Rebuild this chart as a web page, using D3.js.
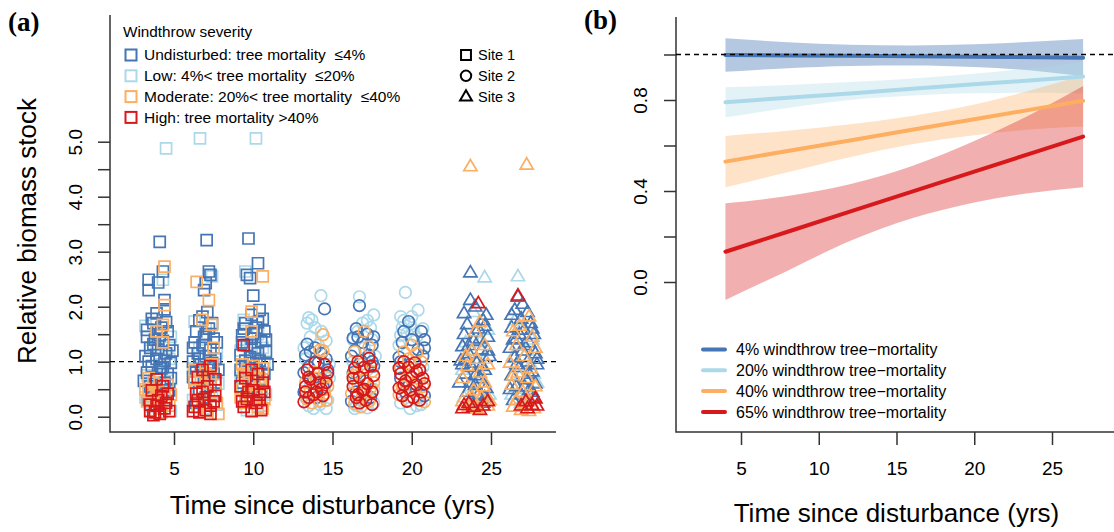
<!DOCTYPE html>
<html>
<head>
<meta charset="utf-8">
<script src="https://cdn.jsdelivr.net/npm/d3@7"></script>
<style>
  html, body { margin: 0; padding: 0; background: #fff; }
  svg { display: block; font-family: "Liberation Sans", Arial, Helvetica, sans-serif; }
</style>
</head>
<body>
<svg id="chart" width="1114" height="532"></svg>
<script>
// severity classes, colours and legend text
var severity = ["Undisturbed", "Low", "Moderate", "High"];
var sevColor = ["#4575b4", "#abd9e9", "#fdae61", "#d7191c"];
var sevLabel = [
    "Undisturbed: tree mortality \u00a0\u22644%",
    "Low: 4%< tree mortality \u00a0\u226420%",
    "Moderate: 20%< tree mortality \u00a0\u226440%",
    "High: tree mortality >40%"
];
var siteLabel = ["Site 1", "Site 2", "Site 3"];

// panel (a) points: [years since disturbance, relative biomass stock]
// site 1 (squares)
var s1Undist = [[4.1,3.18],[3.4,2.49],[3.4,2.30],[4.0,2.44],[4.3,2.64],[4.4,2.12],[4.4,1.95],[3.9,1.88],[3.7,1.70],[4.2,1.62],[4.6,1.55],[3.3,1.45],[3.8,1.40],[4.3,1.38],[4.7,1.30],[3.5,1.25],[4.0,1.22],[4.5,1.15],[3.2,1.10],[3.9,1.05],[4.4,1.02],[4.8,0.98],[3.6,0.92],[4.2,0.88],[3.3,0.80],[4.6,0.78],[3.9,0.70],[4.4,0.62],[3.5,0.55],[4.7,0.48],[4.0,0.40],[3.4,0.30],
    [3.6,1.78],[4.5,1.72],[3.3,1.58],[4.1,1.48],[3.7,1.32],[4.9,1.20],[3.4,1.00],[4.1,0.78],[4.8,0.70],[3.7,0.45],[4.3,0.90],[3.1,0.65],
    [7.06,3.21],[7.2,2.64],[7.0,2.43],[7.3,2.58],[6.9,2.30],[7.1,1.90],[6.8,1.82],[7.4,1.70],[6.4,1.55],[7.0,1.50],[7.5,1.42],[6.3,1.35],[6.8,1.30],[7.3,1.22],[6.5,1.15],[7.0,1.10],[7.6,1.05],[6.2,1.00],[6.7,0.95],[7.2,0.90],[6.4,0.82],[7.5,0.78],[6.9,0.70],[6.3,0.62],[7.3,0.55],[6.6,0.45],[7.0,0.35],[6.4,0.25],
    [6.6,1.75],[7.2,1.60],[6.9,1.45],[6.2,1.25],[7.7,1.35],[6.6,1.05],[7.4,0.98],[7.8,0.85],[6.2,0.72],[7.6,0.62],
    [9.7,3.24],[10.3,2.79],[9.6,2.58],[9.8,2.52],[10.0,2.20],[10.4,1.94],[9.9,1.85],[10.6,1.78],[9.5,1.70],[10.2,1.62],[10.7,1.55],[9.3,1.48],[9.9,1.42],[10.5,1.38],[9.6,1.30],[10.1,1.25],[10.8,1.18],[9.2,1.12],[9.8,1.08],[10.4,1.02],[10.9,0.95],[9.5,0.90],[10.2,0.85],[9.9,0.75],[10.6,0.68],[9.3,0.62],[10.0,0.55],[10.5,0.45],[9.6,0.38],
    [10.3,1.72],[9.4,1.60],[10.0,1.50],[10.8,1.40],[9.3,1.35],[10.3,1.15],[9.5,1.02],[10.0,0.98],[10.7,0.78],[9.2,0.85]];
var s1Low = [[4.5,4.88],[4.3,2.49],[3.2,1.65],[4.8,1.45],[3.5,1.20],[4.1,0.95],[3.3,0.75],[4.6,0.65],[3.8,0.52],[3.2,0.35],[4.5,0.30],[3.6,0.18],[4.1,0.22],[4.8,0.10],
    [3.9,1.30],[4.7,1.05],[3.4,0.58],[4.3,0.40],
    [6.64,5.06],[7.4,2.55],[6.3,1.73],[7.0,1.60],[6.6,1.25],[7.7,1.15],[6.2,0.88],[7.1,0.75],[7.8,0.60],[6.5,0.50],[7.4,0.40],[6.2,0.30],[7.7,0.22],[6.9,0.15],
    [6.9,1.40],[7.5,0.90],[6.5,0.30],
    [10.17,5.06],[9.5,2.64],[9.4,1.76],[10.3,1.50],[9.2,1.20],[10.7,1.00],[9.7,0.80],[10.3,0.65],[9.4,0.50],[10.8,0.40],[9.9,0.30],[10.5,0.20],[9.6,0.12],
    [9.8,1.30],[10.6,1.25],[9.2,0.70],[10.2,0.35]];
var s1Mod = [[4.4,2.73],[4.4,2.03],[4.3,1.67],[3.9,1.55],[4.3,1.35],[3.4,0.70],[3.7,0.62],[4.6,0.58],[3.2,0.50],[4.0,0.45],[3.6,0.38],[4.4,0.35],[3.3,0.28],[3.9,0.22],[4.7,0.20],[3.5,0.12],[4.2,0.08],
    [4.8,0.40],[3.4,0.45],[4.1,0.15],
    [6.43,2.45],[7.2,2.12],[6.8,1.76],[7.4,1.67],[7.5,1.25],[7.4,0.95],[6.3,0.85],[7.0,0.78],[6.7,0.65],[7.6,0.58],[6.4,0.48],[7.2,0.40],[6.8,0.32],[7.7,0.25],[6.5,0.18],[7.1,0.10],[7.8,0.05],
    [6.3,0.62],[7.3,0.70],[6.9,0.22],
    [10.6,2.55],[9.9,1.91],[9.9,1.55],[9.3,0.95],[10.0,0.92],[10.6,0.88],[9.4,0.78],[10.1,0.70],[9.7,0.62],[10.5,0.58],[9.3,0.50],[10.2,0.45],[9.8,0.38],[10.7,0.32],[9.5,0.25],[10.3,0.18],[9.9,0.12],
    [9.6,0.85],[10.4,0.70],[9.2,0.35],[10.6,0.15]];
var s1High = [[3.9,0.68],[4.3,0.55],[3.6,0.48],[4.6,0.42],[4.0,0.30],[3.5,0.22],[4.4,0.15],[3.8,0.08],[4.1,0.05],[3.7,0.03],[4.5,0.25],
    [4.2,0.38],[3.5,0.10],[4.7,0.10],[3.9,0.20],
    [7.3,0.92],[6.8,0.85],[6.5,0.72],[7.6,0.68],[7.1,0.55],[6.4,0.42],[6.9,0.32],[7.5,0.28],[6.3,0.18],[7.0,0.12],[6.6,0.08],[7.3,0.05],[6.2,0.10],
    [6.8,0.45],[7.6,0.38],[6.5,0.30],[7.3,0.20],
    [9.4,1.30],[9.9,0.85],[10.3,0.78],[9.5,0.70],[10.6,0.62],[9.2,0.55],[10.0,0.48],[10.4,0.40],[9.6,0.32],[10.2,0.25],[9.4,0.18],[9.9,0.10],[10.5,0.12],
    [9.7,0.45],[10.4,0.30],[9.3,0.28],[10.7,0.45]];

// site 2 (circles)
var s2Undist = [[14.5,1.96],[13.4,1.32],[13.9,1.25],[13.3,1.12],[14.6,1.05],[14.1,0.98],[13.5,0.90],[14.7,0.85],[13.8,0.70],[14.4,0.55],[13.2,0.45],[14.0,0.35],
    [13.6,1.18],[14.3,1.15],[13.2,0.80],[14.6,0.75],
    [16.7,2.02],[16.5,1.60],[17.2,1.50],[16.3,1.43],[16.9,1.35],[17.5,1.30],[16.4,1.20],[17.3,1.12],[16.8,1.02],[17.6,0.92],[16.3,0.80],[17.1,0.65],[16.5,0.45],[17.4,0.35],[16.2,0.28],
    [16.6,1.45],[17.6,1.45],[16.2,1.10],[17.5,1.00],
    [19.8,1.73],[20.6,1.55],[20.8,1.40],[19.4,1.35],[20.4,1.22],[19.2,1.08],[20.7,1.10],[19.9,0.95],[20.5,0.85],[19.3,0.70],[20.2,0.60],[19.6,0.45],[20.8,0.38],
    [19.5,1.55],[20.8,1.25],[20.0,1.40],[19.3,1.00]];
var s2Low = [[14.27,2.20],[13.5,1.80],[13.7,1.76],[13.4,1.70],[13.9,1.62],[14.3,1.55],[13.6,1.45],[14.6,1.38],[13.3,1.05],[14.8,0.95],[13.6,0.60],[14.5,0.50],[13.3,0.35],[14.7,0.30],[13.8,0.15],[14.6,0.15],[14.2,0.22],
    [14.1,1.30],[13.2,1.25],[14.8,0.70],[13.5,0.20],
    [16.7,2.18],[17.6,1.85],[17.2,1.75],[16.9,1.70],[17.4,1.62],[16.6,1.55],[17.5,1.40],[16.3,1.00],[17.2,0.85],[16.4,0.60],[17.6,0.50],[16.8,0.30],[17.2,0.16],[16.5,0.20],
    [17.0,1.25],[16.3,1.40],[17.7,1.10],[16.4,0.15],[17.6,0.25],
    [19.6,2.26],[20.4,1.94],[19.3,1.82],[19.5,1.75],[19.9,1.68],[19.4,1.62],[20.1,1.58],[19.7,1.52],[20.3,1.45],[19.2,1.30],[20.7,0.90],[19.5,0.55],[20.4,0.35],[19.9,0.15],[20.6,0.22],
    [20.0,1.82],[19.3,1.48],[20.7,1.60],[20.3,0.20],[19.3,0.25]];
var s2Mod = [[14.4,1.49],[14.2,1.21],[14.4,1.20],[13.8,0.82],[14.6,0.72],[13.3,0.62],[14.0,0.58],[13.6,0.48],[14.5,0.42],[13.4,0.32],[14.2,0.28],[13.7,0.25],[14.6,0.30],
    [13.3,0.45],[14.0,0.70],[14.7,0.55],
    [17.0,1.55],[16.4,1.18],[17.3,1.27],[16.8,0.95],[17.5,0.82],[16.3,0.75],[17.0,0.68],[16.6,0.58],[17.4,0.52],[16.2,0.42],[16.9,0.35],[17.3,0.28],[16.4,0.24],[16.8,0.18],
    [16.5,0.80],[17.6,0.62],[17.1,0.45],
    [20.0,1.30],[19.5,1.18],[20.3,1.15],[20.6,1.00],[19.3,0.88],[20.1,0.80],[20.5,0.68],[19.6,0.62],[20.2,0.50],[19.2,0.40],[20.8,0.27],[19.8,0.30],
    [19.4,0.55],[20.7,0.55],[19.8,1.05]];
var s2High = [[13.9,0.98],[14.5,0.95],[13.4,0.85],[14.1,0.78],[13.6,0.68],[14.6,0.62],[13.3,0.55],[14.0,0.45],[14.4,0.38],[13.5,0.35],[13.2,0.27],[14.3,0.50],[13.8,0.40],
    [14.7,0.80],[13.5,0.72],[14.2,0.62],[13.3,0.45],
    [17.3,1.06],[16.6,1.00],[17.0,0.90],[16.4,0.88],[17.6,0.75],[16.7,0.72],[17.2,0.60],[16.3,0.55],[17.5,0.45],[16.9,0.48],[16.5,0.35],[17.1,0.30],[17.5,0.22],[16.7,0.25],
    [17.4,0.92],[16.3,0.70],[17.0,0.50],[16.6,0.40],
    [19.5,1.00],[20.2,0.98],[19.8,0.90],[20.5,0.85],[19.3,0.78],[20.0,0.72],[20.7,0.70],[19.6,0.65],[20.3,0.58],[19.2,0.52],[19.9,0.48],[20.6,0.45],[19.4,0.38],[20.1,0.35],[20.5,0.30],[19.7,0.28],
    [19.2,0.88],[20.8,0.60],[20.3,0.82],[19.5,0.58]];

// site 3 (triangles)
var s3Undist = [[23.7,2.62],[23.7,2.12],[24.7,1.85],[24.5,1.75],[23.5,1.68],[24.2,1.60],[23.3,1.50],[24.8,1.45],[23.9,1.38],[23.2,1.28],[24.4,1.22],[23.6,1.15],[24.9,1.10],[23.1,1.02],[24.1,0.98],[23.8,0.90],[24.6,0.85],[23.4,0.78],[24.3,0.70],[23.0,0.62],[24.0,0.58],[24.7,0.52],[23.5,0.45],[24.2,0.40],[23.8,0.30],[24.5,0.25],
    [24.0,2.00],[24.6,1.65],[23.3,1.88],[24.3,1.42],[23.6,1.30],[24.8,1.20],[23.4,1.05],[24.4,0.92],[23.2,0.95],[24.0,0.75],[23.7,0.62],[24.6,0.35],
    [26.7,2.18],[26.5,1.94],[27.3,1.90],[26.9,1.78],[27.5,1.70],[26.3,1.62],[27.1,1.58],[27.7,1.50],[26.6,1.42],[27.4,1.35],[26.2,1.25],[27.0,1.20],[27.8,1.15],[26.5,1.08],[27.3,1.00],[27.9,0.95],[26.8,0.90],[27.6,0.82],[26.3,0.75],[27.2,0.68],[27.8,0.60],[26.6,0.55],[27.4,0.48],[26.9,0.40],[27.7,0.35],[26.4,0.30],
    [27.0,2.05],[26.3,1.85],[27.6,1.60],[26.8,1.50],[27.1,1.30],[26.4,1.40],[27.9,1.05],[26.6,0.95],[27.4,0.78],[26.2,0.50],[27.1,0.55],[27.6,0.45]];
var s3Low = [[24.6,2.53],[23.9,1.90],[24.8,1.58],[23.4,1.35],[24.6,1.05],[23.2,0.85],[24.4,0.68],[23.7,0.55],[24.9,0.40],[23.3,0.35],[24.1,0.22],[23.9,0.15],
    [23.6,1.05],[24.3,1.35],[24.0,0.42],
    [26.7,2.55],[27.0,1.65],[27.6,1.40],[26.4,1.10],[27.5,0.95],[26.8,0.72],[27.9,0.62],[26.5,0.50],[27.3,0.38],[26.9,0.25],
    [26.5,1.75],[27.3,1.20],[27.7,0.78],[26.3,0.40]];
var s3Mod = [[23.7,4.55],[24.3,1.72],[24.0,1.55],[24.6,1.30],[23.8,1.20],[24.8,0.95],[23.5,0.92],[24.3,0.80],[23.2,0.70],[24.6,0.62],[23.9,0.48],[24.4,0.35],[23.2,0.28],[24.8,0.20],[24.1,0.15],[23.6,0.18],
    [23.4,1.10],[24.1,1.05],[24.5,0.55],[23.8,0.35],[24.9,0.30],
    [27.25,4.58],[27.4,1.82],[26.4,1.55],[27.6,1.45],[26.6,1.30],[27.1,1.10],[26.2,0.98],[27.5,0.88],[26.7,0.80],[27.3,0.70],[26.3,0.58],[27.0,0.45],[26.6,0.30],[27.5,0.28],[26.4,0.18],[27.7,0.15],[27.2,0.22],
    [26.8,1.65],[27.8,1.25],[26.4,0.75],[27.8,0.55],[26.9,0.12],[27.4,0.10]];
var s3High = [[24.2,2.06],[23.3,0.21],[23.9,0.18],[24.5,0.20],[23.6,0.25],[24.8,0.28],
    [23.2,0.15],[24.3,0.12],
    [26.7,2.20],[27.8,0.33],[27.6,0.21],[27.2,0.28],[26.9,0.20],
    [27.3,0.15],[27.9,0.20]];

var sites = [
    [s1Undist, s1Low, s1Mod, s1High],
    [s2Undist, s2Low, s2Mod, s2High],
    [s3Undist, s3Low, s3Mod, s3High]
];

// panel (b) fitted lines with confidence bands
var fitYears = [4, 8, 12, 16, 20, 24, 27];
var fitLabel = ["4% windthrow tree\u2212mortality", "20% windthrow tree\u2212mortality",
                "40% windthrow tree\u2212mortality", "65% windthrow tree\u2212mortality"];
var fit4  = [0.998, 0.996, 0.994, 0.992, 0.990, 0.988, 0.986];
var lo4   = [0.924, 0.940, 0.950, 0.952, 0.945, 0.928, 0.905];
var hi4   = [1.071, 1.054, 1.043, 1.040, 1.045, 1.057, 1.068];
var fit20 = [0.790, 0.810, 0.829, 0.849, 0.869, 0.888, 0.903];
var lo20  = [0.724, 0.765, 0.800, 0.820, 0.830, 0.832, 0.830];
var hi20  = [0.856, 0.866, 0.879, 0.895, 0.915, 0.943, 0.968];
var fit40 = [0.529, 0.576, 0.622, 0.669, 0.715, 0.762, 0.797];
var lo40  = [0.416, 0.482, 0.548, 0.605, 0.645, 0.672, 0.683];
var hi40  = [0.642, 0.665, 0.693, 0.730, 0.780, 0.850, 0.910];
var fit65 = [0.133, 0.221, 0.309, 0.397, 0.485, 0.573, 0.639];
var lo65  = [-0.079, 0.050, 0.180, 0.280, 0.350, 0.395, 0.416];
var hi65  = [0.346, 0.378, 0.430, 0.510, 0.620, 0.750, 0.862];

var fits = [[fit4, lo4, hi4], [fit20, lo20, hi20], [fit40, lo40, hi40], [fit65, lo65, hi65]];

var svg = d3.select("#chart");
var axisColor = "#333";

// ---------- panel (a) ----------
var xA = d3.scaleLinear().domain([5, 25]).range([174, 491]);
var yA = d3.scaleLinear().domain([0, 5]).range([416.7, 141.7]);
var a = svg.append("g");

// box (left and bottom)
a.append("path")
    .attr("d", "M110,15V432H556")
    .attr("fill", "none").attr("stroke", axisColor).attr("stroke-width", 1.5);

var gxA = a.append("g").attr("transform", "translate(0,432)")
    .call(d3.axisBottom(xA).tickValues([5, 10, 15, 20, 25]).tickSize(13).tickPadding(17));
var gyA = a.append("g").attr("transform", "translate(110,0)")
    .call(d3.axisLeft(yA).tickValues(d3.range(0, 5.01, 0.5)).tickSize(12)
        .tickFormat(function(d) { return d % 1 === 0 ? d3.format(".1f")(d) : ""; }));

styleAxis(gxA, 19);
styleAxis(gyA, 19);
rotateYLabels(gyA, -35);

// reference line at 1
a.append("line")
    .attr("x1", 110).attr("x2", 556)
    .attr("y1", yA(1)).attr("y2", yA(1))
    .attr("stroke", "#000").attr("stroke-width", 1.3).attr("stroke-dasharray", "5,4");

// points, drawn site by site
var drawOrder = [1, 0, 2, 3];
sites.forEach(function(site, si) {
    drawOrder.forEach(function(k) {
        a.append("g").selectAll("path").data(site[k]).enter().append("path")
            .attr("d", markerPath(si))
            .attr("transform", function(d) { return "translate(" + xA(d[0]) + "," + yA(d[1]) + ")"; })
            .attr("fill", "none")
            .attr("stroke", sevColor[k])
            .attr("stroke-width", 1.7);
    });
});

// axis titles
a.append("text")
    .attr("x", xA(15)).attr("y", 505).attr("dy", "0.35em")
    .attr("text-anchor", "middle").attr("font-size", 26)
    .text("Time since disturbance (yrs)");
svg.append("text")
    .attr("transform", "translate(27,231) rotate(-90)")
    .attr("text-anchor", "middle").attr("dy", "0.35em").attr("font-size", 26)
    .text("Relative biomass stock");

// legend: severity
a.append("text").attr("x", 123).attr("y", 32).attr("dy", "0.35em")
    .attr("font-size", 15.3).text("Windthrow severity");
var legA = a.append("g").selectAll("g").data(severity).enter().append("g")
    .attr("transform", function(d, i) { return "translate(131," + (55 + i * 20.8) + ")"; });
legA.append("rect")
    .attr("x", -5.5).attr("y", -5.5).attr("width", 11).attr("height", 11)
    .attr("fill", "none").attr("stroke-width", 2)
    .attr("stroke", function(d, i) { return sevColor[i]; });
legA.append("text")
    .attr("x", 13).attr("dy", "0.35em").attr("font-size", 15.5)
    .text(function(d, i) { return sevLabel[i]; });

// legend: site symbols
var legS = a.append("g").selectAll("g").data(siteLabel).enter().append("g")
    .attr("transform", function(d, i) { return "translate(466," + (55 + i * 20.8) + ")"; });
legS.append("path")
    .attr("d", function(d, i) { return markerPath(i, 0.9); })
    .attr("fill", "none").attr("stroke", "#000").attr("stroke-width", 2);
legS.append("text")
    .attr("x", 12).attr("dy", "0.35em").attr("font-size", 14.5)
    .text(function(d) { return d; });

// ---------- panel (b) ----------
var xB = d3.scaleLinear().domain([5, 25]).range([741, 1052]);
var yB = d3.scaleLinear().domain([0, 1]).range([282, 54.5]);
var b = svg.append("g");

var fitRows = fitYears.map(function(yr, i) { return i; });

fits.forEach(function(f, k) {
    var area = d3.area()
        .x(function(i) { return xB(fitYears[i]); })
        .y0(function(i) { return yB(f[1][i]); })
        .y1(function(i) { return yB(f[2][i]); })
        .curve(d3.curveMonotoneX);
    b.append("path").datum(fitRows)
        .attr("d", area)
        .attr("fill", sevColor[k])
        .attr("fill-opacity", k === 0 ? 0.4 : 0.35);
});
fits.forEach(function(f, k) {
    var line = d3.line()
        .x(function(i) { return xB(fitYears[i]); })
        .y(function(i) { return yB(f[0][i]); });
    b.append("path").datum(fitRows)
        .attr("d", line)
        .attr("fill", "none")
        .attr("stroke", sevColor[k])
        .attr("stroke-width", 4)
        .attr("stroke-linecap", "round");
});

b.append("path")
    .attr("d", "M676,17V432H1114")
    .attr("fill", "none").attr("stroke", axisColor).attr("stroke-width", 1.5);

var gxB = b.append("g").attr("transform", "translate(0,432)")
    .call(d3.axisBottom(xB).tickValues([5, 10, 15, 20, 25]).tickSize(13).tickPadding(17));
var gyB = b.append("g").attr("transform", "translate(676,0)")
    .call(d3.axisLeft(yB).tickValues([0, 0.2, 0.4, 0.6, 0.8, 1.0]).tickSize(12)
        .tickFormat(function(d) { return [0, 0.4, 0.8].indexOf(Math.round(d * 10) / 10) >= 0 ? d3.format(".1f")(d) : ""; }));
styleAxis(gxB, 19);
styleAxis(gyB, 19);
rotateYLabels(gyB, -36);

b.append("line")
    .attr("x1", 676).attr("x2", 1114)
    .attr("y1", yB(1)).attr("y2", yB(1))
    .attr("stroke", "#000").attr("stroke-width", 1.3).attr("stroke-dasharray", "5,4");

b.append("text")
    .attr("x", xB(15)).attr("y", 513).attr("dy", "0.35em")
    .attr("text-anchor", "middle").attr("font-size", 26)
    .text("Time since disturbance (yrs)");

var legB = b.append("g").selectAll("g").data(fitLabel).enter().append("g")
    .attr("transform", function(d, i) { return "translate(703," + (349.5 + i * 20.8) + ")"; });
legB.append("line")
    .attr("x1", 0).attr("x2", 22)
    .attr("stroke", function(d, i) { return sevColor[i]; })
    .attr("stroke-width", 4).attr("stroke-linecap", "round");
legB.append("text")
    .attr("x", 33).attr("dy", "0.35em").attr("font-size", 16)
    .text(function(d) { return d; });

// panel letters
svg.append("text").attr("x", 8).attr("y", 31)
    .attr("font-family", "'Liberation Serif', 'Times New Roman', serif")
    .attr("font-weight", "bold").attr("font-size", 27).text("(a)");
svg.append("text").attr("x", 584).attr("y", 29)
    .attr("font-family", "'Liberation Serif', 'Times New Roman', serif")
    .attr("font-weight", "bold").attr("font-size", 27).text("(b)");

function markerPath(site, scale) {
    var s = scale || 1;
    if (site === 0) {
        var h = 5.5 * s;
        return "M" + (-h) + "," + (-h) + "H" + h + "V" + h + "H" + (-h) + "Z";
    }
    if (site === 1) {
        var r = 5.8 * s;
        return "M" + r + ",0A" + r + "," + r + " 0 1,1 " + (-r) + ",0A" + r + "," + r + " 0 1,1 " + r + ",0Z";
    }
    var w = 6.6 * s, t = 7 * s, bt = 4.3 * s;
    return "M0," + (-t) + "L" + w + "," + bt + "L" + (-w) + "," + bt + "Z";
}

function styleAxis(g, size) {
    g.select(".domain").remove();
    g.selectAll(".tick line").attr("stroke", axisColor).attr("stroke-width", 1.5);
    g.selectAll(".tick text").attr("font-size", size).attr("fill", "#000")
        .attr("font-family", "'Liberation Sans', Arial, sans-serif");
}

function rotateYLabels(g, off) {
    g.selectAll(".tick text")
        .attr("transform", "rotate(-90)")
        .attr("x", 0).attr("y", off)
        .attr("dy", "0.35em")
        .attr("text-anchor", "middle");
}
</script>
</body>
</html>
